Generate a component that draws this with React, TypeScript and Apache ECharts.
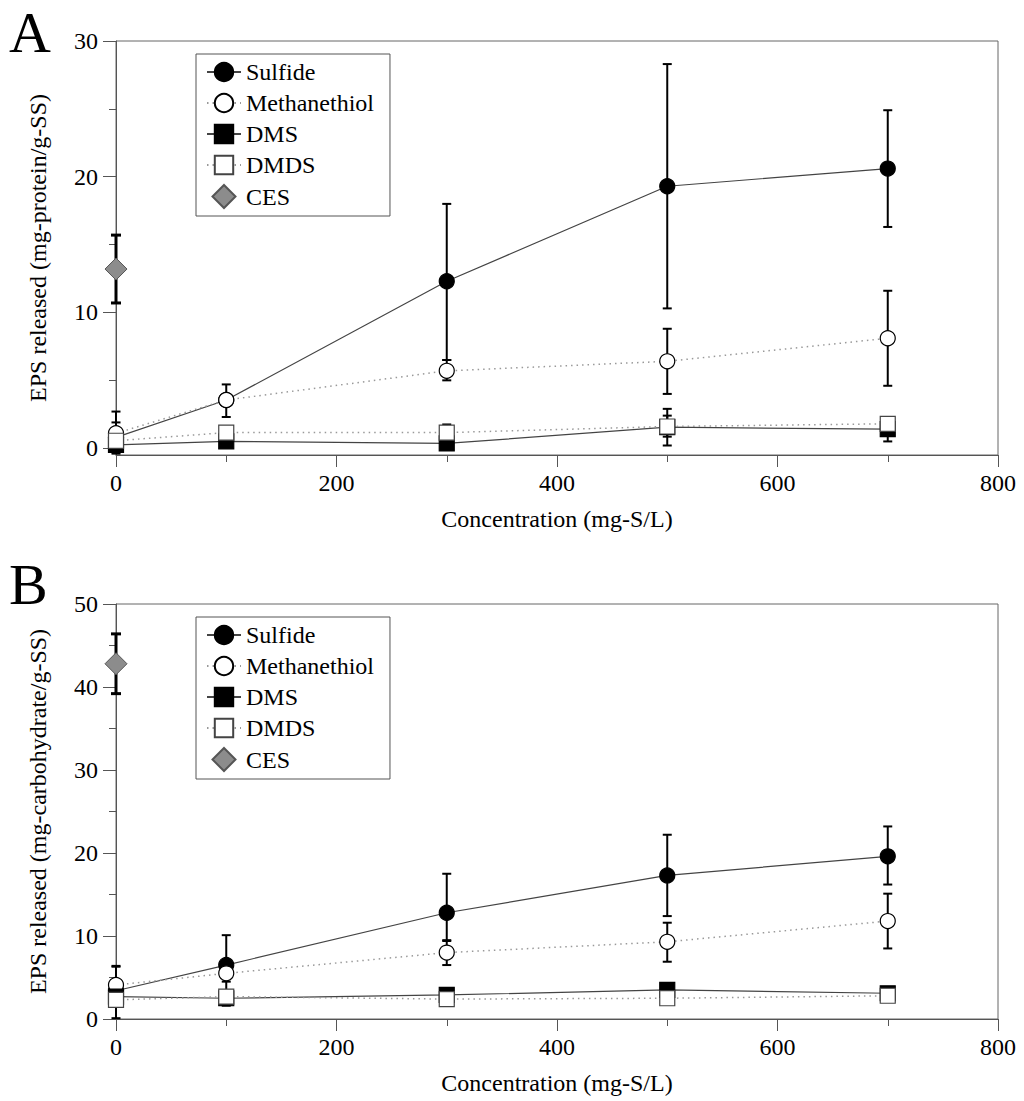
import React, { useEffect, useRef } from "react";
import * as echarts from "echarts";

// ---------- data ----------
const concentrations = [0, 100, 300, 500, 700];
const legendNames = ["Sulfide", "Methanethiol", "DMS", "DMDS", "CES"];
const yTicksA = [0, 10, 20, 30];
const yMinorTicksA = [5, 15, 25];

// Panel A: protein
const sulfideA = [0.8, 3.55, 12.3, 19.3, 20.6];
const methanethiolA = [1.1, 3.55, 5.7, 6.4, 8.1];
const dmsA = [0.25, 0.5, 0.35, 1.55, 1.4];
const dmdsA = [0.55, 1.15, 1.15, 1.6, 1.8];
const cesA = 13.2;
const sulfideAErr = [[-0.3, 1.9], [3.15, 3.95], [6.5, 18.0], [10.3, 28.3], [16.3, 24.9]];
const methanethiolAErr = [[-0.4, 2.7], [2.3, 4.7], [5.0, 6.5], [4.0, 8.8], [4.6, 11.6]];
const dmsAErr = [[0.0, 0.5], [0.3, 0.7], [0.15, 0.55], [0.85, 2.4], [0.5, 1.6]];
const dmdsAErr = [[0.3, 0.8], [0.9, 1.4], [0.9, 1.75], [0.2, 2.9], [1.5, 2.1]];
const cesAErr = [10.7, 15.7];

// Panel B: carbohydrate
const sulfideB = [3.4, 6.5, 12.8, 17.3, 19.6];
const methanethiolB = [4.1, 5.5, 8.0, 9.3, 11.8];
const dmsB = [2.7, 2.5, 2.9, 3.5, 3.1];
const dmdsB = [2.3, 2.7, 2.4, 2.5, 2.8];
const cesB = 42.8;
const sulfideBErr = [[0.1, 6.4], [3.0, 10.1], [9.5, 17.5], [12.4, 22.2], [16.2, 23.2]];
const methanethiolBErr = [[1.9, 6.3], [4.5, 6.5], [6.5, 9.4], [6.9, 11.6], [8.5, 15.1]];
const dmsBErr = [[2.4, 3.0], [1.6, 3.4], [2.6, 3.2], [3.2, 3.8], [2.8, 3.4]];
const dmdsBErr = [[1.5, 3.1], [2.1, 3.3], [2.0, 2.8], [2.1, 2.9], [2.4, 3.2]];
const cesBErr = [39.2, 46.4];

// ---------- styles ----------
const FONT = "'Liberation Serif', 'Times New Roman', serif";
const AXIS_COLOR = "#555";
const DIAMOND_ICON = "path://M0,-10 L10,0 L0,10 L-10,0 Z";

type Sty = { symbol: string; size: number; fill: string; border: string; dotted: boolean };
const styles: Record<string, Sty> = {
  Sulfide: { symbol: "circle", size: 15, fill: "#000", border: "#000", dotted: false },
  Methanethiol: { symbol: "circle", size: 15, fill: "#fff", border: "#000", dotted: true },
  DMS: { symbol: "rect", size: 15, fill: "#000", border: "#000", dotted: false },
  DMDS: { symbol: "rect", size: 15, fill: "#fff", border: "#444", dotted: true },
};

function lineSeries(name: string, vals: number[], xIdx: number, yIdx: number) {
  const s = styles[name];
  return {
    type: "line",
    name,
    xAxisIndex: xIdx,
    yAxisIndex: yIdx,
    data: concentrations.map((x, i) => [x, vals[i]]),
    symbol: s.symbol,
    symbolSize: s.size,
    showAllSymbol: true,
    silent: true,
    z: 3,
    lineStyle: s.dotted
      ? { color: "#999", width: 1.5, type: [1.5, 4] }
      : { color: "#444", width: 1.2, type: "solid" },
    itemStyle: { color: s.fill, borderColor: s.border, borderWidth: 1.2, opacity: 1 },
    emphasis: { disabled: true },
  };
}

function errSeries(name: string, err: number[][], xs: number[], xIdx: number, yIdx: number, lw: number, cap: number) {
  return {
    type: "custom",
    name: name + " error",
    xAxisIndex: xIdx,
    yAxisIndex: yIdx,
    z: 1,
    silent: true,
    data: xs.map((x, i) => [x, err[i][0], err[i][1]]),
    encode: { x: 0, y: [1, 2] },
    renderItem: (params: any, api: any) => {
      const x = api.value(0);
      const lo = api.coord([x, api.value(1)]);
      const hi = api.coord([x, api.value(2)]);
      const st = { stroke: "#000", lineWidth: lw };
      return {
        type: "group",
        children: [
          { type: "line", shape: { x1: lo[0], y1: lo[1], x2: hi[0], y2: hi[1] }, style: st },
          { type: "line", shape: { x1: lo[0] - cap, y1: lo[1], x2: lo[0] + cap, y2: lo[1] }, style: st },
          { type: "line", shape: { x1: hi[0] - cap, y1: hi[1], x2: hi[0] + cap, y2: hi[1] }, style: st },
        ],
      };
    },
  };
}

function cesSeries(val: number, xIdx: number, yIdx: number) {
  return {
    type: "scatter",
    name: "CES",
    xAxisIndex: xIdx,
    yAxisIndex: yIdx,
    data: [[0, val]],
    symbol: "diamond",
    symbolSize: 22,
    symbolKeepAspect: true,
    silent: true,
    z: 4,
    itemStyle: { color: "#8c8c8c", borderColor: "#555", borderWidth: 1, opacity: 1 },
    emphasis: { disabled: true },
  };
}

function xAxis(gridIndex: number) {
  return {
    type: "value",
    gridIndex,
    min: 0,
    max: 800,
    interval: 200,
    name: "Concentration (mg-S/L)",
    nameLocation: "middle",
    nameGap: 52,
    nameTextStyle: { fontFamily: FONT, fontSize: 24, color: "#000" },
    axisLine: { show: true, onZero: false, lineStyle: { color: AXIS_COLOR, width: 1 } },
    axisTick: { show: true, length: 12, lineStyle: { color: AXIS_COLOR, width: 1 } },
    minorTick: { show: true, splitNumber: 2, length: 7, lineStyle: { color: AXIS_COLOR, width: 1 } },
    axisLabel: { fontFamily: FONT, fontSize: 24, color: "#000", margin: 16 },
    splitLine: { show: false },
    minorSplitLine: { show: false },
  };
}

function legend(top: number) {
  return {
    left: 196,
    top,
    orient: "vertical",
    data: legendNames.map((n) => (n === "CES" ? { name: n, icon: DIAMOND_ICON } : n)),
    selectedMode: false,
    symbolKeepAspect: true,
    backgroundColor: "#fff",
    borderColor: "#555",
    borderWidth: 1,
    borderRadius: 0,
    padding: [6, 16, 7, 10],
    itemGap: 7,
    itemWidth: 34,
    itemHeight: 23,
    textStyle: { fontFamily: FONT, fontSize: 24, color: "#000" },
  };
}

function buildOption() {
  const yNameStyle = { fontFamily: FONT, fontSize: 24, color: "#000" };
  const yLabel = { fontFamily: FONT, fontSize: 24, color: "#000", margin: 18 };
  return {
    animation: false,
    backgroundColor: "#fff",
    grid: [
      { left: 116, right: 26, top: 41, bottom: 646, show: true, borderColor: "#666", borderWidth: 1, containLabel: false },
      { left: 116, right: 26, top: 604, bottom: 82, show: true, borderColor: "#666", borderWidth: 1, containLabel: false },
    ],
    xAxis: [xAxis(0), xAxis(1)],
    yAxis: [
      {
        type: "value",
        gridIndex: 0,
        position: "left",
        min: -0.5,
        max: 30,
        name: "EPS released (mg-protein/g-SS)",
        nameLocation: "middle",
        nameGap: 66,
        nameTextStyle: yNameStyle,
        axisLine: { show: true, onZero: false, lineStyle: { color: AXIS_COLOR, width: 1 } },
        axisTick: { show: true, length: 13, customValues: yTicksA, lineStyle: { color: AXIS_COLOR, width: 1 } },
        axisLabel: { ...yLabel, customValues: yTicksA },
        splitLine: { show: false },
      },
      {
        type: "value",
        gridIndex: 0,
        position: "left",
        offset: 0,
        min: -0.5,
        max: 30,
        axisLine: { show: false },
        axisTick: { show: true, length: 7, customValues: yMinorTicksA, lineStyle: { color: AXIS_COLOR, width: 1 } },
        axisLabel: { show: false },
        splitLine: { show: false },
      },
      {
        type: "value",
        gridIndex: 1,
        position: "left",
        min: 0,
        max: 50,
        interval: 10,
        name: "EPS released (mg-carbohydrate/g-SS)",
        nameLocation: "middle",
        nameGap: 66,
        nameTextStyle: yNameStyle,
        axisLine: { show: true, onZero: false, lineStyle: { color: AXIS_COLOR, width: 1 } },
        axisTick: { show: true, length: 13, lineStyle: { color: AXIS_COLOR, width: 1 } },
        minorTick: { show: true, splitNumber: 2, length: 7, lineStyle: { color: AXIS_COLOR, width: 1 } },
        axisLabel: yLabel,
        splitLine: { show: false },
        minorSplitLine: { show: false },
      },
    ],
    legend: [legend(54), legend(617)],
    graphic: [
      { type: "text", style: { text: "A", x: 9, y: 32, verticalAlign: "middle", fontFamily: FONT, fontSize: 58, fill: "#000" } },
      { type: "text", style: { text: "B", x: 9, y: 584, verticalAlign: "middle", fontFamily: FONT, fontSize: 58, fill: "#000" } },
    ],
    series: [
      errSeries("Sulfide", sulfideAErr, concentrations, 0, 0, 2, 4.5),
      errSeries("Methanethiol", methanethiolAErr, concentrations, 0, 0, 2, 4.5),
      errSeries("DMS", dmsAErr, concentrations, 0, 0, 2, 4.5),
      errSeries("DMDS", dmdsAErr, concentrations, 0, 0, 2, 4.5),
      errSeries("CES", [cesAErr], [0], 0, 0, 3, 5),
      lineSeries("Sulfide", sulfideA, 0, 0),
      lineSeries("Methanethiol", methanethiolA, 0, 0),
      lineSeries("DMS", dmsA, 0, 0),
      lineSeries("DMDS", dmdsA, 0, 0),
      cesSeries(cesA, 0, 0),
      errSeries("Sulfide", sulfideBErr, concentrations, 1, 2, 2, 4.5),
      errSeries("Methanethiol", methanethiolBErr, concentrations, 1, 2, 2, 4.5),
      errSeries("DMS", dmsBErr, concentrations, 1, 2, 2, 4.5),
      errSeries("DMDS", dmdsBErr, concentrations, 1, 2, 2, 4.5),
      errSeries("CES", [cesBErr], [0], 1, 2, 3, 5),
      lineSeries("Sulfide", sulfideB, 1, 2),
      lineSeries("Methanethiol", methanethiolB, 1, 2),
      lineSeries("DMS", dmsB, 1, 2),
      lineSeries("DMDS", dmdsB, 1, 2),
      cesSeries(cesB, 1, 2),
    ],
  };
}

export default function App() {
  const ref = useRef<HTMLDivElement>(null);
  useEffect(() => {
    document.body.style.margin = "0";
    const chart = echarts.init(ref.current as HTMLDivElement, null, { renderer: "svg" });
    chart.setOption(buildOption() as any);
    return () => chart.dispose();
  }, []);
  return <div ref={ref} style={{ width: 1024, height: 1101 }} />;
}
